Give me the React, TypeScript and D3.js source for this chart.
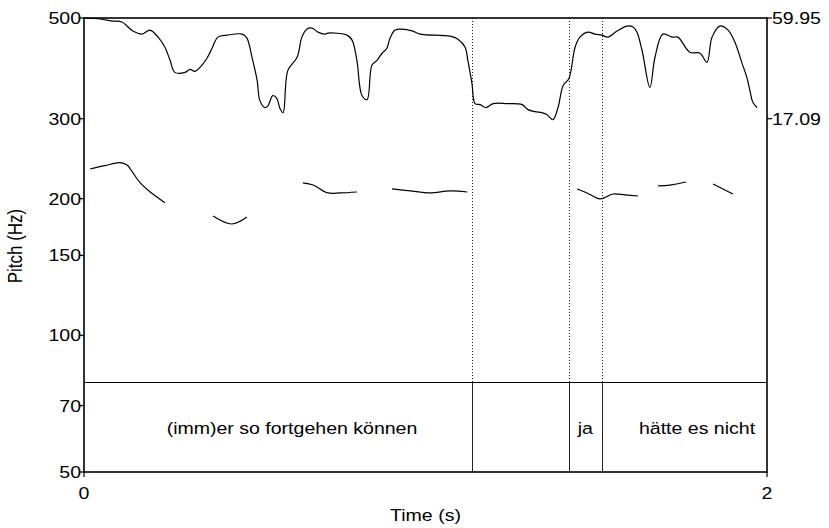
import * as d3 from "d3";

// intensity contour (time s, dB)
const intensityTime = [
  0.0, 0.047, 0.082, 0.111, 0.143, 0.17, 0.193, 0.217, 0.237, 0.252, 0.266, 0.296, 0.31, 0.325, 0.34,
  0.36, 0.375, 0.392, 0.419, 0.463, 0.477, 0.492, 0.507, 0.515, 0.53, 0.539, 0.553, 0.565, 0.574, 0.583,
  0.597, 0.624, 0.638, 0.653, 0.668, 0.685, 0.706, 0.714, 0.77, 0.785, 0.799, 0.814, 0.829, 0.843, 0.858,
  0.873, 0.887, 0.896, 0.911, 0.931, 0.963, 0.984, 1.072, 1.095, 1.116, 1.124, 1.136, 1.145, 1.16, 1.177,
  1.198, 1.239, 1.283, 1.3, 1.321, 1.341, 1.356, 1.373, 1.388, 1.403, 1.42, 1.438, 1.452, 1.476, 1.496,
  1.517, 1.534, 1.561, 1.59, 1.608, 1.619, 1.634, 1.657, 1.672, 1.695, 1.722, 1.739, 1.774, 1.804, 1.824,
  1.839, 1.862, 1.886, 1.906, 1.927, 1.941, 1.95, 1.959, 1.971,
];
const intensityDb = [
  59.95, 59.52, 58.66, 58.24, 54.38, 53.09, 54.81, 51.81, 47.52, 41.95, 36.81, 36.81, 38.09, 37.24, 38.95,
  42.81, 47.09, 51.81, 52.66, 53.09, 51.38, 43.24, 33.38, 24.8, 21.8, 22.66, 26.95, 25.66, 21.38, 19.66,
  37.66, 43.24, 51.81, 55.24, 55.66, 53.95, 53.09, 53.52, 52.66, 50.52, 41.95, 26.95, 25.23, 39.81, 41.95,
  44.95, 47.09, 51.38, 54.81, 55.24, 54.38, 53.09, 52.24, 50.95, 47.52, 41.95, 32.09, 23.52, 23.09, 21.8,
  23.52, 23.52, 23.09, 20.95, 20.09, 19.66, 18.8, 16.66, 21.8, 31.23, 34.23, 47.52, 51.81, 53.95, 53.09,
  52.66, 51.81, 54.38, 56.52, 56.09, 53.95, 46.23, 30.38, 43.24, 53.09, 51.81, 51.81, 45.38, 44.95, 41.09,
  51.81, 56.52, 54.81, 49.66, 40.66, 34.66, 29.09, 23.95, 21.8,
];

// voiced pitch stretches: [time s, Hz]
const pitchSegments: [number, number][][] = [
  [[0.018, 232.5], [0.061, 236.4], [0.105, 240.0], [0.126, 237.2], [0.143, 228.2], [0.164, 216.9], [0.193, 207.2], [0.237, 196.0]],
  [[0.378, 183.2], [0.433, 175.9], [0.477, 182.2]],
  [[0.641, 216.6], [0.671, 214.3], [0.714, 205.9], [0.75, 205.9], [0.799, 206.9]],
  [[0.902, 210.1], [0.955, 208.0], [1.013, 205.9], [1.072, 208.0], [1.122, 206.9]],
  [[1.444, 210.1], [1.473, 205.9], [1.511, 199.7], [1.549, 204.8], [1.584, 203.8], [1.622, 202.7]],
  [[1.681, 213.3], [1.716, 214.3], [1.763, 217.6]],
  [[1.842, 215.4], [1.9, 204.8]],
];

const pitchTicks = [50, 70, 100, 150, 200, 300, 500];
const intensityTicks = [59.95, 17.09];
const timeTicks = [0, 2];

const boundaries = [1.136, 1.42, 1.517];
const tierLabels = ["(imm)er so fortgehen können", "ja", "hätte es nicht"];
const tierLabelTimes = [0.609, 1.468, 1.795];

const W = 829;
const H = 528;
const L = 84;
const R = 767;
const TOP = 18;
const BOT = 472;
const TIER = 382;
const SX = 1.15;
const FONT = "'Liberation Sans', Arial, sans-serif";

function Label({ x, y, anchor = "middle", rot = false, children }: any) {
  return (
    <g transform={`translate(${x},${y}) scale(${SX},1)${rot ? " rotate(-90)" : ""}`}>
      <text textAnchor={anchor} dominantBaseline="central" fontSize={17} fontFamily={FONT} fill="#000">
        {children}
      </text>
    </g>
  );
}

export default function App() {
  const x = d3.scaleLinear().domain([0, 2]).range([L, R]);
  const yP = d3.scaleLog().domain([50, 500]).range([BOT, TOP]);
  const yI = d3.scaleLinear().domain([17.09, 59.95]).range([yP(300), yP(500)]);

  const intensityLine = d3
    .line<number>()
    .x((_, i) => x(intensityTime[i]))
    .y((d) => yI(d))
    .curve(d3.curveCatmullRom.alpha(0.5));

  const pitchLine = d3
    .line<[number, number]>()
    .x((d) => x(d[0]))
    .y((d) => yP(d[1]))
    .curve(d3.curveCatmullRom.alpha(0.5));

  return (
    <svg width={W} height={H} style={{ position: "absolute", left: 0, top: 0, background: "#fff" }}>
      {/* boundaries: dotted above tier, solid inside */}
      {boundaries.map((b) => (
        <g key={b}>
          <line x1={Math.round(x(b)) + 0.5} x2={Math.round(x(b)) + 0.5} y1={TOP} y2={TIER} stroke="#222" strokeWidth={1} strokeDasharray="1,2" />
          <line x1={Math.round(x(b)) + 0.5} x2={Math.round(x(b)) + 0.5} y1={TIER} y2={BOT} stroke="#222" strokeWidth={1} />
        </g>
      ))}
      <line x1={L} x2={R} y1={TIER + 0.5} y2={TIER + 0.5} stroke="#000" strokeWidth={1.2} />

      <path d={intensityLine(intensityDb) || ""} fill="none" stroke="#000" strokeWidth={1.2} />
      {pitchSegments.map((s, i) => (
        <path key={i} d={pitchLine(s) || ""} fill="none" stroke="#000" strokeWidth={1.2} />
      ))}

      <rect x={L} y={TOP} width={R - L} height={BOT - TOP} fill="none" stroke="#000" strokeWidth={1.6} />

      {pitchTicks.map((t) => (
        <g key={t}>
          <line x1={L - 5} x2={L} y1={yP(t)} y2={yP(t)} stroke="#000" strokeWidth={1.2} />
          <Label x={L - 3} y={yP(t)} anchor="end">{t}</Label>
        </g>
      ))}
      {intensityTicks.map((t) => (
        <g key={t}>
          <line x1={R} x2={R + 5} y1={yI(t)} y2={yI(t)} stroke="#000" strokeWidth={1.2} />
          <Label x={R + 5} y={yI(t)} anchor="start">{t.toFixed(2)}</Label>
        </g>
      ))}
      {timeTicks.map((t) => (
        <g key={t}>
          <line x1={x(t)} x2={x(t)} y1={BOT} y2={BOT + 5} stroke="#000" strokeWidth={1.2} />
          <Label x={x(t)} y={493}>{t}</Label>
        </g>
      ))}

      {tierLabels.map((s, i) => (
        <Label key={s} x={x(tierLabelTimes[i])} y={428}>{s}</Label>
      ))}

      <Label x={(L + R) / 2} y={515}>Time (s)</Label>
      <Label x={15} y={246} rot>Pitch (Hz)</Label>
    </svg>
  );
}
